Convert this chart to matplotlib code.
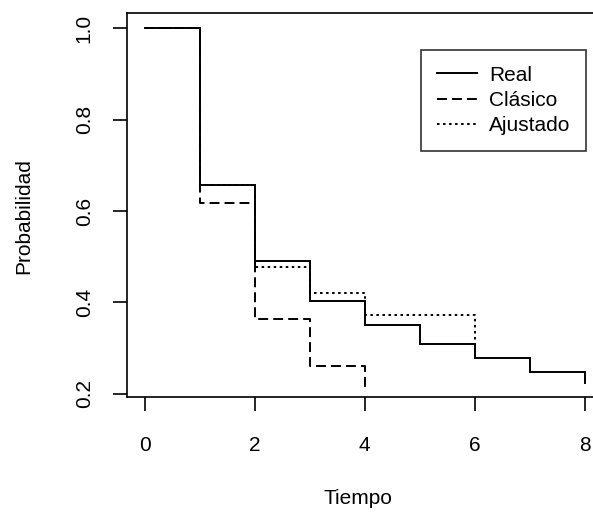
import matplotlib
matplotlib.use("Agg")
import matplotlib.pyplot as plt

plt.rcParams['font.family'] = ['Liberation Sans', 'DejaVu Sans']

# Data
tiempo_real = [0, 1, 2, 3, 4, 5, 6, 7, 8]
prob_real = [1.0, 0.657, 0.4915, 0.404, 0.351, 0.3085, 0.278, 0.2486, 0.223]

tiempo_clasico = [0, 1, 2, 3, 4]
prob_clasico = [1.0, 0.618, 0.363, 0.261, 0.205]

tiempo_ajustado = [0, 1, 2, 3, 4, 5, 6]
prob_ajustado = [1.0, 0.657, 0.477, 0.4215, 0.372, 0.372, 0.276]

xticks = [0, 2, 4, 6, 8]
yticks = [0.2, 0.4, 0.6, 0.8, 1.0]

W, H = 593, 520
fig = plt.figure(figsize=(W / 100, H / 100), dpi=100)
L, R, T, B = 127, 602.6, 13, 397
ax = fig.add_axes([L / W, 1 - B / H, (R - L) / W, (B - T) / H])

lw = 1.4
ax.plot(tiempo_real, prob_real, drawstyle='steps-post', color='black', lw=lw,
        label='Real', solid_joinstyle='miter')
ax.plot(tiempo_clasico, prob_clasico, drawstyle='steps-post', color='black', lw=lw,
        dashes=(5.1, 2.6), label='Clásico')
ax.plot(tiempo_ajustado, prob_ajustado, drawstyle='steps-post', color='black', lw=lw,
        dashes=(1.3, 1.8), label='Ajustado')

ax.set_xlim(-0.32, 8.32)
ax.set_ylim(0.193, 1.033)
ax.set_xticks(xticks)
ax.set_xticklabels([str(v) for v in xticks])
ax.set_yticks(yticks)
ax.set_yticklabels([f"{v:.1f}" for v in yticks], rotation=90, va='center')

for s in ['top', 'left', 'bottom', 'right']:
    ax.spines[s].set_linewidth(1.2)
ax.tick_params(axis='both', length=10, width=1.2, labelsize=15, colors='black')
ax.tick_params(axis='x', pad=18)
ax.tick_params(axis='y', pad=14)

fig.text(24 / W, 1 - 216 / H, 'Probabilidad', rotation=90, ha='center', va='center', fontsize=15)
fig.text(358 / W, 1 - 498 / H, 'Tiempo', ha='center', va='center', fontsize=15)

leg = ax.legend(loc='upper right', bbox_to_anchor=((586 - L) / (R - L), (B - 50) / (B - T)),
                frameon=True, fancybox=False, edgecolor='black', fontsize=15,
                handlelength=1.9, handletextpad=0.6, borderpad=0.75, labelspacing=0.3,
                borderaxespad=0)
leg.get_frame().set_linewidth(1.2)

fig.savefig('out.png', dpi=100)
